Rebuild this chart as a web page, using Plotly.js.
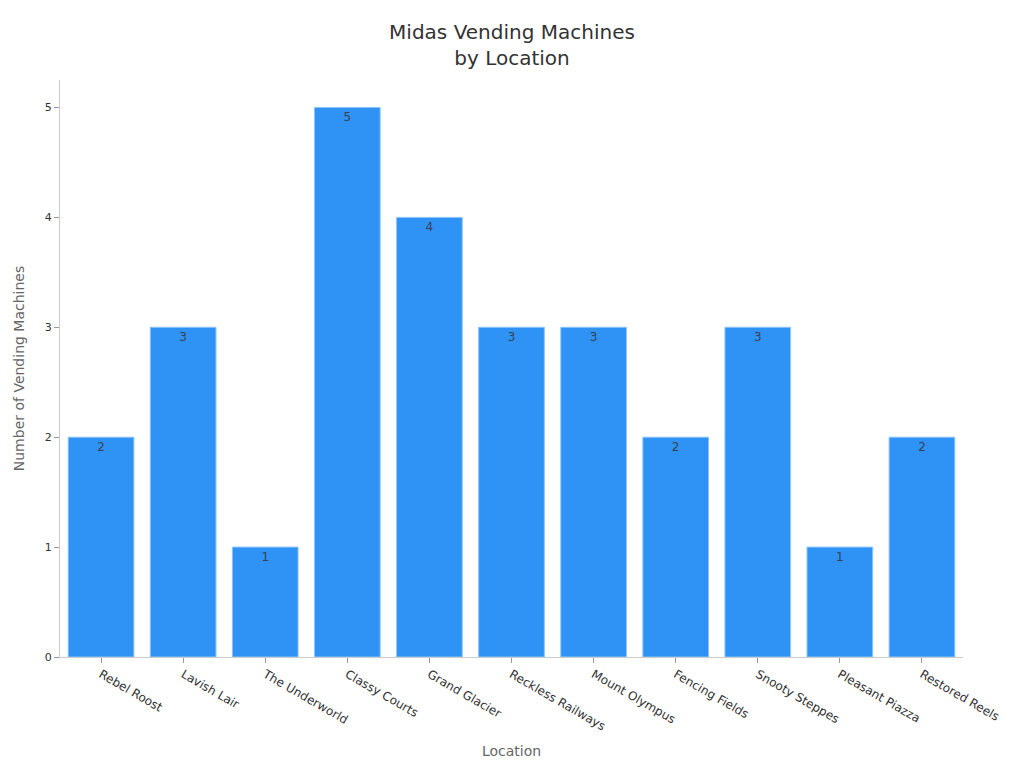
<!DOCTYPE html>
<html>
<head>
<meta charset="utf-8">
<script src="https://cdn.plot.ly/plotly-3.0.1.min.js"></script>
<style>html,body{margin:0;padding:0;background:#fff}#chart{width:1024px;height:768px}</style>
</head>
<body>
<div id="chart"></div>
<script>
const locations = ["Rebel Roost","Lavish Lair","The Underworld","Classy Courts","Grand Glacier","Reckless Railways","Mount Olympus","Fencing Fields","Snooty Steppes","Pleasant Piazza","Restored Reels"];
const machineCounts = [2,3,1,5,4,3,3,2,3,1,2];

const trace = {
  type: 'bar',
  x: locations,
  y: machineCounts,
  text: machineCounts.map(String),
  textposition: 'inside',
  insidetextanchor: 'end',
  textangle: 0,
  textfont: {family: 'DejaVu Sans', size: 12, color: '#3a4050'},
  marker: {color: '#2e93f5', line: {color: '#8cc4f7', width: 1}},
  hoverinfo: 'x+y'
};

const layout = {
  width: 1024, height: 768,
  margin: {l: 60, r: 61, t: 80, b: 111},
  paper_bgcolor: '#fff', plot_bgcolor: '#fff',
  bargap: 0.2,
  showlegend: false,
  title: {
    text: 'Midas Vending Machines<br>by Location',
    font: {family: 'DejaVu Sans', size: 20, color: '#333'},
    x: 0.5, xanchor: 'center', y: 0.949, yref: 'container', yanchor: 'top'
  },
  xaxis: {
    type: 'category',
    tickangle: 30,
    tickfont: {family: 'DejaVu Sans', size: 12, color: '#333'},
    showline: true, linecolor: '#cccccc', linewidth: 1,
    ticks: 'outside', ticklen: 5, tickcolor: '#999', tickwidth: 1,
    showgrid: false, zeroline: false,
    title: {text: 'Location', font: {family: 'DejaVu Sans', size: 14, color: '#666'}, standoff: 13}
  },
  yaxis: {
    range: [0, 5.25],
    dtick: 1,
    tickfont: {family: 'DejaVu Sans', size: 11, color: '#333'},
    showline: true, linecolor: '#cccccc', linewidth: 1,
    ticks: 'outside', ticklen: 5, tickcolor: '#999', tickwidth: 1,
    showgrid: false, zeroline: false,
    title: {text: 'Number of Vending Machines', font: {family: 'DejaVu Sans', size: 14, color: '#666'}, standoff: 16}
  }
};

Plotly.newPlot('chart', [trace], layout, {displayModeBar: false, staticPlot: true});
</script>
</body>
</html>
